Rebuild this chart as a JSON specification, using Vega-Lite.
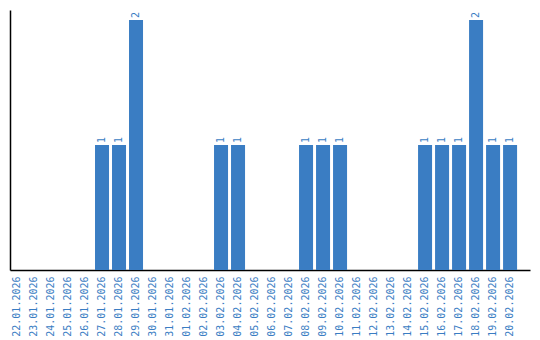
{
  "$schema": "https://vega.github.io/schema/vega-lite/v6.json",
  "autosize": {"type": "none"},
  "padding": {"left": 10, "top": 10, "right": 10, "bottom": 70},
  "width": 520,
  "height": 260,
  "background": "white",
  "config": {"view": {"stroke": null}, "font": "DejaVu Sans Mono"},
  "data": {"values": [
    {"date": "22.01.2026", "count": 0},
    {"date": "23.01.2026", "count": 0},
    {"date": "24.01.2026", "count": 0},
    {"date": "25.01.2026", "count": 0},
    {"date": "26.01.2026", "count": 0},
    {"date": "27.01.2026", "count": 1},
    {"date": "28.01.2026", "count": 1},
    {"date": "29.01.2026", "count": 2},
    {"date": "30.01.2026", "count": 0},
    {"date": "31.01.2026", "count": 0},
    {"date": "01.02.2026", "count": 0},
    {"date": "02.02.2026", "count": 0},
    {"date": "03.02.2026", "count": 1},
    {"date": "04.02.2026", "count": 1},
    {"date": "05.02.2026", "count": 0},
    {"date": "06.02.2026", "count": 0},
    {"date": "07.02.2026", "count": 0},
    {"date": "08.02.2026", "count": 1},
    {"date": "09.02.2026", "count": 1},
    {"date": "10.02.2026", "count": 1},
    {"date": "11.02.2026", "count": 0},
    {"date": "12.02.2026", "count": 0},
    {"date": "13.02.2026", "count": 0},
    {"date": "14.02.2026", "count": 0},
    {"date": "15.02.2026", "count": 1},
    {"date": "16.02.2026", "count": 1},
    {"date": "17.02.2026", "count": 1},
    {"date": "18.02.2026", "count": 2},
    {"date": "19.02.2026", "count": 1},
    {"date": "20.02.2026", "count": 1}
  ]},
  "encoding": {
    "x": {
      "field": "date", "type": "ordinal", "sort": null,
      "scale": {"paddingInner": 0.176, "paddingOuter": 0.38, "align": 0},
      "axis": {"title": null, "labelAngle": -90, "ticks": false, "domainColor": "#000000", "domainWidth": 1.5, "labelColor": "#3a7dc3", "labelFont": "DejaVu Sans Mono", "labelFontSize": 10, "labelPadding": 6}
    },
    "y": {
      "field": "count", "type": "quantitative",
      "scale": {"domain": [0, 2.08], "nice": false},
      "axis": {"title": null, "labels": false, "ticks": false, "grid": false, "domainColor": "#000000", "domainWidth": 1.5}
    }
  },
  "layer": [
    {"mark": {"type": "bar", "color": "#3a7dc3"}},
    {
      "transform": [{"filter": "datum.count > 0"}],
      "mark": {"type": "text", "angle": -90, "align": "left", "baseline": "middle", "dx": 2, "color": "#3a7dc3", "font": "DejaVu Sans Mono", "fontSize": 10},
      "encoding": {"text": {"field": "count", "type": "quantitative"}}
    }
  ]
}
